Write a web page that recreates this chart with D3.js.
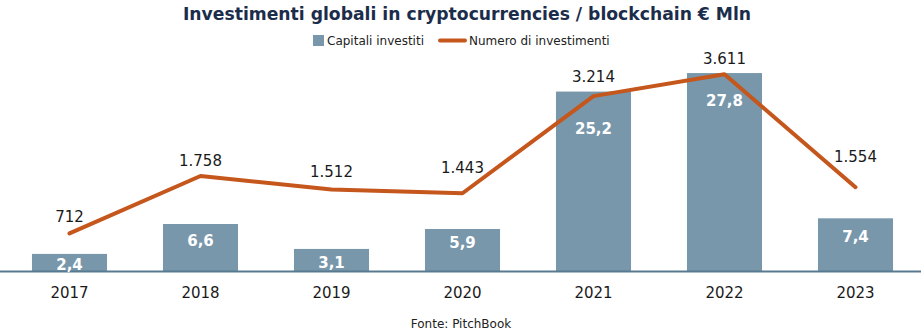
<!DOCTYPE html>
<html>
<head>
<meta charset="utf-8">
<script src="https://cdn.jsdelivr.net/npm/d3@7"></script>
<style>
  html, body { margin: 0; padding: 0; background: #fff; }
  svg { display: block; font-family: "DejaVu Sans", sans-serif; }
</style>
</head>
<body>
<svg id="chart" width="921" height="332"></svg>
<script>
const years = ["2017", "2018", "2019", "2020", "2021", "2022", "2023"];
const capitali = [2.4, 6.6, 3.1, 5.9, 25.2, 27.8, 7.4];          // € Mln
const numero = [712, 1758, 1512, 1443, 3214, 3611, 1554];         // numero di investimenti

// label placement: bar labels sit below the bar top, line labels above their point,
// each nudged so it stays clear of the line
const barLabelDy = [16, 22, 19, 19, 42, 33, 24];
const lineLabelDy = [11.6, 10, 12, 20, 14, 10, 25.5];

const fmtComma = v => v.toFixed(1).replace(".", ",");
const fmtThousands = d3.formatLocale({ decimal: ",", thousands: ".", grouping: [3], currency: ["€", ""] }).format(",d");

const W = 921, H = 332;
const baseY = 271;
const svg = d3.select("#chart");

const x = d3.scaleBand().domain(years).range([4, 921]).paddingInner(0.427).paddingOuter(0.2135);
const yBar = d3.scaleLinear().domain([0, 30]).range([baseY, baseY - 213.6]);
const yLine = d3.scaleLinear().domain([0, 4000]).range([272.4, 272.4 - 219.4]);

const barColor = "#7897ab";
const lineColor = "#c5561c";
const textColor = "#1a1a1a";

// Title
svg.append("text")
  .attr("x", 467).attr("y", 20)
  .attr("text-anchor", "middle")
  .attr("font-size", 17.2).attr("font-weight", "bold")
  .attr("fill", "#1b2d4a")
  .text("Investimenti globali in cryptocurrencies / blockchain € Mln");

// Legend
const lg = svg.append("g").attr("font-size", 12).attr("fill", "#222");
lg.append("rect").attr("x", 313).attr("y", 35).attr("width", 11).attr("height", 11).attr("fill", barColor);
lg.append("text").attr("x", 327).attr("y", 45).text("Capitali investiti");
lg.append("line").attr("x1", 440).attr("x2", 465).attr("y1", 40.5).attr("y2", 40.5)
  .attr("stroke", lineColor).attr("stroke-width", 4).attr("stroke-linecap", "round");
lg.append("text").attr("x", 469).attr("y", 45).text("Numero di investimenti");

// Bars
svg.append("g").selectAll("rect")
  .data(years)
  .join("rect")
  .attr("x", d => x(d))
  .attr("width", x.bandwidth())
  .attr("y", (d, i) => yBar(capitali[i]))
  .attr("height", (d, i) => baseY - yBar(capitali[i]))
  .attr("fill", barColor);

// Axis
const xAxis = svg.append("g")
  .attr("transform", `translate(0,${baseY})`)
  .call(d3.axisBottom(x).tickSize(0).tickPadding(16));
xAxis.select(".domain").remove();
xAxis.selectAll("text").attr("font-size", 15).attr("fill", textColor).attr("font-family", "DejaVu Sans, sans-serif");
svg.append("line").attr("x1", 0).attr("x2", W).attr("y1", baseY + 0.5).attr("y2", baseY + 0.5)
  .attr("stroke", "#587a90").attr("stroke-width", 2);

// Line series
const line = d3.line()
  .x((d, i) => x(years[i]) + x.bandwidth() / 2)
  .y(d => yLine(d));
svg.append("path")
  .datum(numero)
  .attr("d", line)
  .attr("fill", "none")
  .attr("stroke", lineColor)
  .attr("stroke-width", 4)
  .attr("stroke-linejoin", "round")
  .attr("stroke-linecap", "round");

// Bar value labels
svg.append("g").selectAll("text")
  .data(years)
  .join("text")
  .attr("x", d => x(d) + x.bandwidth() / 2)
  .attr("y", (d, i) => yBar(capitali[i]) + barLabelDy[i])
  .attr("text-anchor", "middle")
  .attr("font-size", 15).attr("font-weight", "bold")
  .attr("fill", "#fff")
  .text((d, i) => fmtComma(capitali[i]));

// Line value labels
svg.append("g").selectAll("text")
  .data(numero)
  .join("text")
  .attr("x", (d, i) => x(years[i]) + x.bandwidth() / 2)
  .attr("y", (d, i) => yLine(d) - lineLabelDy[i])
  .attr("text-anchor", "middle")
  .attr("font-size", 15)
  .attr("fill", textColor)
  .text(d => fmtThousands(d));

// Source
svg.append("text")
  .attr("x", 461).attr("y", 328)
  .attr("text-anchor", "middle")
  .attr("font-size", 12).attr("fill", "#222")
  .text("Fonte: PitchBook");
</script>
</body>
</html>
